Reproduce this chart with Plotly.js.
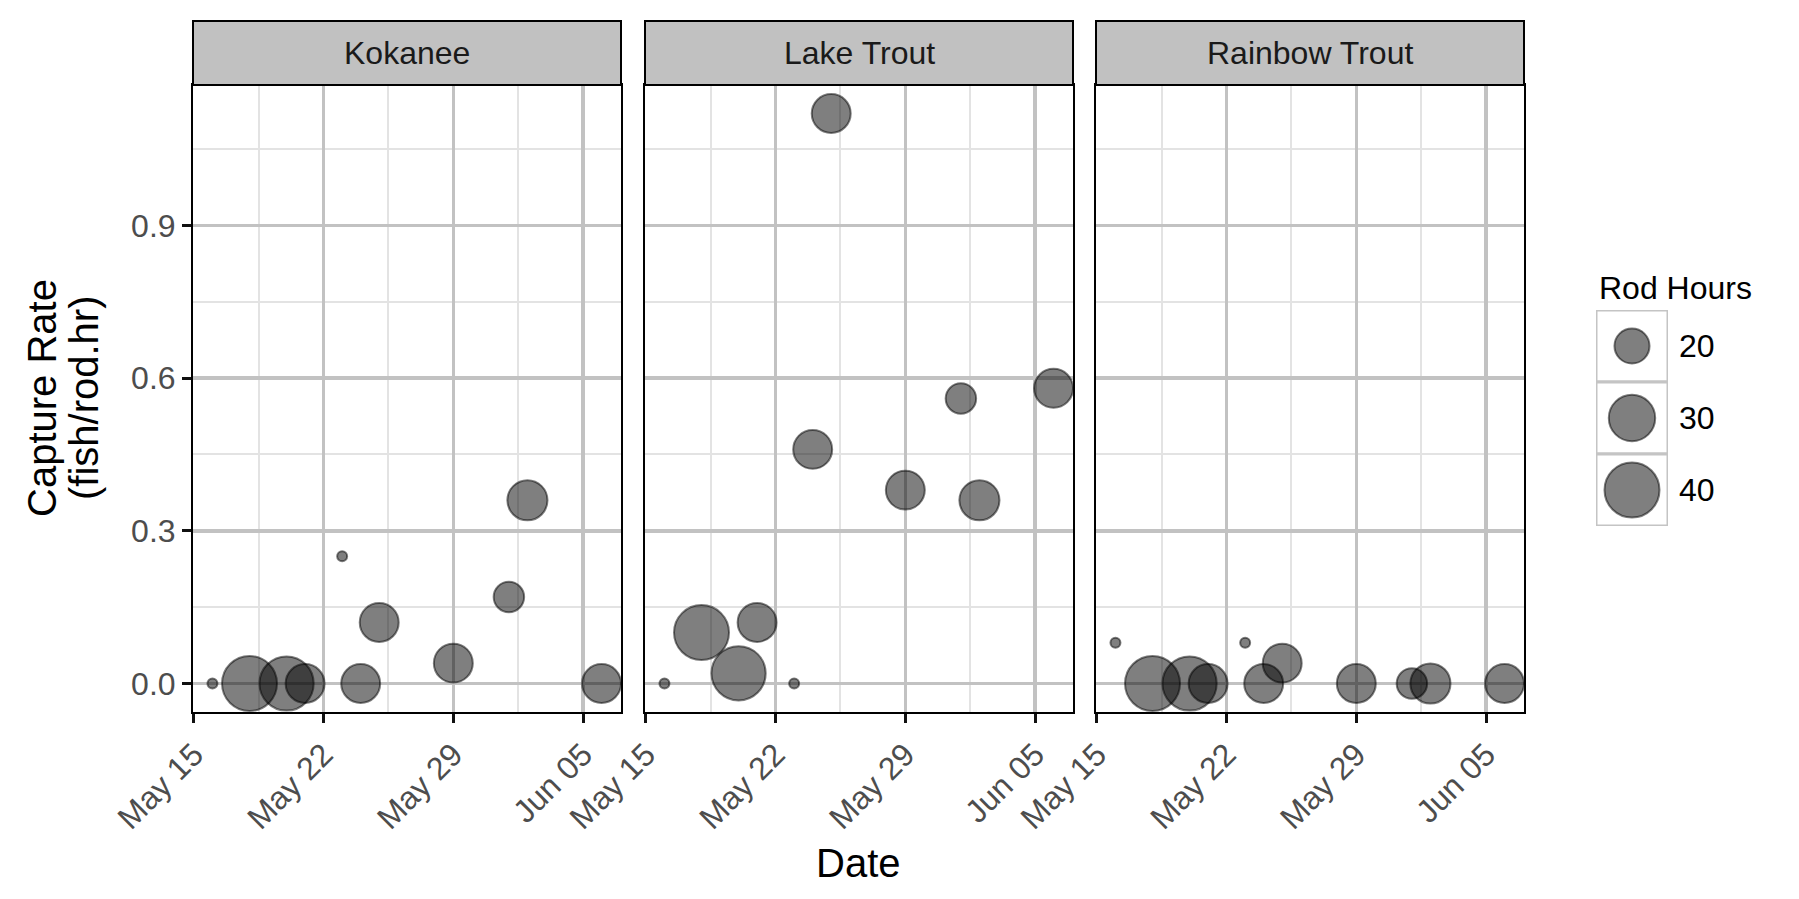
<!DOCTYPE html>
<html><head><meta charset="utf-8">
<script src="https://cdn.plot.ly/plotly-3.0.1.min.js"></script>
<style>html,body{margin:0;padding:0;background:#fff;} #chart{width:1799px;height:899px;}</style>
</head><body><div id="chart"></div>
<script>
// ---- data ----
const dates = ['2017-05-16','2017-05-18','2017-05-20','2017-05-21','2017-05-23','2017-05-24','2017-05-25','2017-05-29','2017-06-01','2017-06-02','2017-06-06'];
const rodHours = [11, 40, 39, 23, 11, 23, 23, 23, 17, 24, 23];
const kokanee = [0, 0, 0, 0, 0.25, 0, 0.12, 0.04, 0.17, 0.36, 0];
const lakeTrout = [0, 0.10, 0.02, 0.12, 0, 0.46, 1.12, 0.38, 0.56, 0.36, 0.58];
const rainbowTrout = [0.08, 0, 0, 0, 0.08, 0, 0.04, 0, 0, 0, 0];
const species = ['Kokanee', 'Lake Trout', 'Rainbow Trout'];
const xTickVals = ['2017-05-15', '2017-05-22', '2017-05-29', '2017-06-05'];
const xTickText = ['May 15', 'May 22', 'May 29', 'Jun 05'];
const xMinorVals = ['2017-05-18 12:00', '2017-05-25 12:00', '2017-06-01 12:00'];
const yTickVals = [0, 0.3, 0.6, 0.9];
const yTickText = ['0.0', '0.3', '0.6', '0.9'];
const yMinorVals = [0.15, 0.45, 0.75, 1.05];
const legendBreaks = [20, 30, 40];
const legendTitle = 'Rod Hours';
const xTitle = 'Date';
const yTitle1 = 'Capture Rate';
const yTitle2 = '(fish/rod.hr)';

// ---- styling / scales ----
const W = 1799, H = 899;
const FONT = 'Liberation Sans, Arial, Helvetica, sans-serif';
const series = [kokanee, lakeTrout, rainbowTrout];
const panelPx = [[193, 621], [645, 1073], [1096, 1524]];
const xDom = panelPx.map(p => [p[0] / W, p[1] / W]);
const yDom = [1 - 712 / H, 1 - 85 / H];
const stripDom = [1 - 85 / H, 1 - 21 / H];

const hMin = Math.min(...rodHours), hMax = Math.max(...rodHours);
const dMin = 12, dMax = 57, LW = 2;
function sizeFor(h) { return dMin + (dMax - dMin) * Math.sqrt(Math.max(0, (h - hMin) / (hMax - hMin))) - LW; }

const ms = dates.map(d => Date.parse(d));
const tMin = Math.min(...ms), tMax = Math.max(...ms), tSpan = tMax - tMin;
function fmt(t) { return new Date(t).toISOString().replace('T', ' ').replace('Z', ''); }
const xRange = [fmt(tMin - 0.05 * tSpan), fmt(tMax + 0.05 * tSpan)];
const allY = [].concat(...series);
const yLo = Math.min(...allY), yHi = Math.max(...allY), ySpan = yHi - yLo;
const yRange = [yLo - 0.05 * ySpan, yHi + 0.05 * ySpan];

const MAJOR = '#c2c2c2', MINOR = '#e3e3e3';
const fill = 'rgba(0,0,0,0.5)';

const traces = series.map((vals, i) => ({
  type: 'scatter', mode: 'markers',
  x: dates, y: vals,
  xaxis: 'x' + (i ? i + 1 : ''), yaxis: 'y' + (i ? i + 1 : ''),
  marker: { size: rodHours.map(sizeFor), opacity: 1, color: fill, line: { color: fill, width: LW } },
  cliponaxis: true, hoverinfo: 'skip', showlegend: false
}));
traces.push({
  type: 'scatter', mode: 'markers', x: legendBreaks.map(() => 0.5), y: legendBreaks.map((b, i) => i),
  xaxis: 'x4', yaxis: 'y4',
  marker: { size: legendBreaks.map(sizeFor), opacity: 1, color: fill, line: { color: fill, width: LW } },
  cliponaxis: false, hoverinfo: 'skip', showlegend: false
});

const layout = {
  width: W, height: H, margin: { l: 0, r: 0, t: 0, b: 0 },
  paper_bgcolor: '#fff', plot_bgcolor: '#fff',
  font: { family: FONT, color: '#000' },
  showlegend: false, shapes: [], annotations: []
};
for (let i = 0; i < 3; i++) {
  const s = i ? String(i + 1) : '';
  layout['xaxis' + s] = {
    type: 'date', domain: xDom[i], range: xRange, anchor: 'y' + s,
    tickmode: 'array', tickvals: xTickVals, ticktext: xTickText, tickangle: -45,
    ticks: 'outside', ticklen: 9, tickwidth: 3, tickcolor: '#111',
    tickfont: { family: FONT, size: 32, color: '#4d4d4d' },
    showline: true, mirror: true, linecolor: '#000', linewidth: 2,
    showgrid: true, gridcolor: MAJOR, gridwidth: 3.5, zeroline: false,
    minor: { tickmode: 'array', tickvals: xMinorVals, showgrid: true, gridcolor: MINOR, gridwidth: 2, ticks: '' },
    fixedrange: true
  };
  layout['yaxis' + s] = {
    domain: yDom, range: yRange, anchor: 'x' + s,
    tickmode: 'array', tickvals: yTickVals, ticktext: yTickText,
    ticks: i === 0 ? 'outside' : '', showticklabels: i === 0,
    ticklen: 9, tickwidth: 3, tickcolor: '#111',
    tickfont: { family: FONT, size: 32, color: '#4d4d4d' },
    showline: true, mirror: true, linecolor: '#000', linewidth: 2,
    showgrid: true, gridcolor: MAJOR, gridwidth: 3.5, zeroline: false,
    minor: { tickmode: 'array', tickvals: yMinorVals, showgrid: true, gridcolor: MINOR, gridwidth: 2, ticks: '' },
    fixedrange: true
  };
  layout.shapes.push({
    type: 'rect', xref: 'paper', yref: 'paper',
    x0: xDom[i][0], x1: xDom[i][1], y0: stripDom[0], y1: stripDom[1],
    fillcolor: '#c1c1c1', line: { color: '#000', width: 2 }
  });
  layout.annotations.push({
    xref: 'paper', yref: 'paper', x: (xDom[i][0] + xDom[i][1]) / 2, y: (stripDom[0] + stripDom[1]) / 2,
    xanchor: 'center', yanchor: 'middle', showarrow: false, text: species[i],
    font: { family: FONT, size: 32, color: '#1a1a1a' }
  });
}
// legend subplot
layout.xaxis4 = { domain: [1596 / W, 1668 / W], range: [0, 1], visible: false, fixedrange: true, anchor: 'y4' };
layout.yaxis4 = { domain: [1 - 526 / H, 1 - 310 / H], range: [legendBreaks.length - 0.5, -0.5], autorange: false, visible: false, fixedrange: true, anchor: 'x4' };
legendBreaks.forEach((b, i) => {
  layout.shapes.push({
    type: 'rect', xref: 'x4', yref: 'y4', x0: 0, x1: 1, y0: i - 0.5, y1: i + 0.5,
    fillcolor: '#fff', line: { color: '#c4c4c4', width: 3 }, layer: 'below'
  });
  layout.annotations.push({
    xref: 'paper', yref: 'y4', x: 1677 / W, y: i, xanchor: 'left', yanchor: 'middle',
    showarrow: false, text: String(b), font: { family: FONT, size: 32, color: '#000' }
  });
});
layout.annotations.push({
  xref: 'paper', yref: 'paper', x: 1597 / W, y: 1 - 288 / H, xanchor: 'left', yanchor: 'middle',
  showarrow: false, text: legendTitle, font: { family: FONT, size: 32, color: '#000' }
});
// axis titles
layout.annotations.push({
  xref: 'paper', yref: 'paper', x: (panelPx[0][0] + panelPx[2][1]) / 2 / W, y: 1 - 863 / H,
  xanchor: 'center', yanchor: 'middle', showarrow: false, text: xTitle,
  font: { family: FONT, size: 40, color: '#000' }
});
layout.annotations.push({
  xref: 'paper', yref: 'paper', x: 42 / W, y: 1 - 398 / H, textangle: -90,
  xanchor: 'center', yanchor: 'middle', showarrow: false, text: yTitle1,
  font: { family: FONT, size: 40, color: '#000' }
});
layout.annotations.push({
  xref: 'paper', yref: 'paper', x: 84 / W, y: 1 - 398 / H, textangle: -90,
  xanchor: 'center', yanchor: 'middle', showarrow: false, text: yTitle2,
  font: { family: FONT, size: 40, color: '#000' }
});

Plotly.newPlot('chart', traces, layout, { displayModeBar: false, staticPlot: true });
</script>
</body></html>
